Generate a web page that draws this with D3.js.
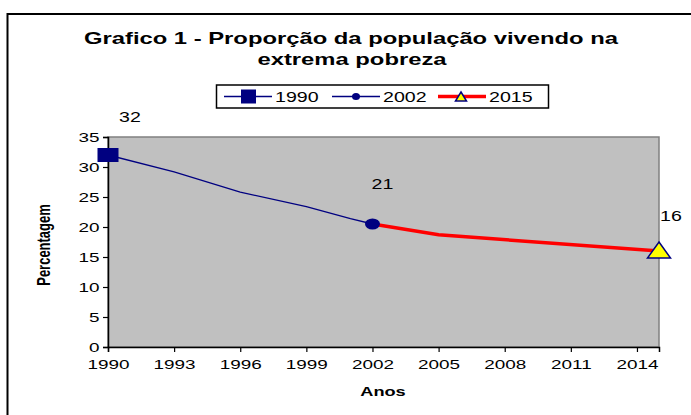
<html>
<head>
<script src="https://cdn.jsdelivr.net/npm/d3@7"></script>
<style>
  body { margin: 0; padding: 0; background: #fff; }
  text { font-family: "Liberation Sans", Arial, sans-serif; }
</style>
</head>
<body>
<div id="chart"></div>
<script>
const titleLines = ['Grafico 1 - Proporção da população vivendo na', 'extrema pobreza'];
const xTicks = [1990, 1993, 1996, 1999, 2002, 2005, 2008, 2011, 2014];
const yTicks = [0, 5, 10, 15, 20, 25, 30, 35];
const blueYears = [1990, 1993, 1996, 1999, 2001, 2002];
const blueVals = [32, 29.2, 25.8, 23.4, 21.4, 20.5];
const redYears = [2002, 2005, 2015];
const redVals = [20.5, 18.7, 16];
const seriesNames = ['1990', '2002', '2015'];
const markYears = [1990, 2002, 2015];
const markVals = [32, 20.5, 16];
const markLabels = ['32', '21', '16'];

const W = 691, H = 415;
const SX = 1.4; // the picture is stretched sideways
const plot = { left: 108, right: 659, top: 137, bottom: 347 };

const svg = d3.select('#chart').append('svg').attr('width', W).attr('height', H);

// outer frame
svg.append('rect').attr('x', 7.5).attr('y', 14).attr('width', 700).attr('height', 420)
  .attr('fill', '#fff').attr('stroke', '#000').attr('stroke-width', 2);

const x = d3.scaleLinear().domain([1990, 2015]).range([plot.left, plot.right]);
const y = d3.scaleLinear().domain([0, 35]).range([plot.bottom, plot.top]);

function txt(str, px, py, opts) {
  opts = opts || {};
  const t = svg.append('text')
    .attr('transform', 'translate(' + px + ',' + py + ') scale(' + SX + ',1)' + (opts.rot ? ' rotate(' + opts.rot + ')' : ''))
    .attr('text-anchor', opts.anchor || 'middle')
    .attr('font-size', opts.size || 14)
    .attr('font-weight', opts.bold ? 'bold' : 'normal')
    .attr('fill', '#000')
    .text(str);
  return t;
}

// title
txt(titleLines[0], 351, 44, { size: 17, bold: true });
txt(titleLines[1], 352, 65, { size: 17, bold: true });

// plot area
svg.append('rect').attr('x', plot.left).attr('y', plot.top)
  .attr('width', plot.right - plot.left).attr('height', plot.bottom - plot.top)
  .attr('fill', '#c0c0c0').attr('stroke', '#808080').attr('stroke-width', 1.5);

// axes
const xAxis = svg.append('g').attr('transform', 'translate(0,' + plot.bottom + ')')
  .call(d3.axisBottom(x).tickValues(xTicks).tickFormat(d3.format('d')).tickSizeOuter(0).tickSize(5));
xAxis.selectAll('text').attr('font-size', 13.5).attr('font-family', '"Liberation Sans", Arial, sans-serif')
  .attr('fill', '#000').attr('dy', '1.05em').attr('transform', 'scale(' + SX + ',1)');
xAxis.select('.domain').attr('stroke', '#000').attr('stroke-width', 1.5);
xAxis.selectAll('line').attr('stroke', '#000').attr('stroke-width', 1.2);

const yAxis = svg.append('g').attr('transform', 'translate(' + plot.left + ',0)')
  .call(d3.axisLeft(y).tickValues(yTicks).tickSizeOuter(0).tickSize(5));
yAxis.selectAll('text').attr('font-size', 13.5).attr('font-family', '"Liberation Sans", Arial, sans-serif')
  .attr('fill', '#000').attr('x', -6).attr('transform', 'scale(' + SX + ',1)');
yAxis.select('.domain').attr('stroke', '#000').attr('stroke-width', 1.5);
yAxis.selectAll('line').attr('stroke', '#000').attr('stroke-width', 1.2);

// axis titles
txt('Percentagem', 50, 245, { size: 13, bold: true, rot: -90 });
txt('Anos', 383, 396, { size: 13, bold: true });

// lines
const line = d3.line().x(d => x(d[0])).y(d => y(d[1]));
svg.append('path').datum(blueYears.map((yr, i) => [yr, blueVals[i]]))
  .attr('d', line).attr('fill', 'none').attr('stroke', '#000080').attr('stroke-width', 1.3);
svg.append('path').datum(redYears.map((yr, i) => [yr, redVals[i]]))
  .attr('d', line).attr('fill', 'none').attr('stroke', '#ff0000').attr('stroke-width', 3.5);

// markers
function dot(g, cx, cy, rx, ry) {
  g.append('ellipse').attr('cx', cx).attr('cy', cy).attr('rx', rx).attr('ry', ry).attr('fill', '#000080');
}
function tri(g, cx, cy, w, h) {
  g.append('path').attr('d', 'M' + cx + ',' + (cy - h / 2) + 'L' + (cx + w / 2) + ',' + (cy + h / 2) + 'L' + (cx - w / 2) + ',' + (cy + h / 2) + 'Z')
    .attr('fill', '#ffff00').attr('stroke', '#000080').attr('stroke-width', 1.5);
}
svg.append('rect').attr('x', x(markYears[0]) - 10.5).attr('y', y(markVals[0]) - 7)
  .attr('width', 21).attr('height', 14).attr('fill', '#000080');
dot(svg, x(markYears[1]), y(markVals[1]), 7.5, 5.5);
tri(svg, x(markYears[2]), y(markVals[2]) - 1, 23, 16);

// data labels
const labelOff = [[22, -33], [10, -35], [12, -30]];
markLabels.forEach((l, i) => {
  txt(l, x(markYears[i]) + labelOff[i][0], y(markVals[i]) + labelOff[i][1], { size: 14 });
});

// legend
const leg = svg.append('g');
leg.append('rect').attr('x', 216.5).attr('y', 85).attr('width', 332).attr('height', 23)
  .attr('fill', '#fff').attr('stroke', '#000').attr('stroke-width', 1.5);
const legX = [224, 332, 438];
seriesNames.forEach((name, i) => {
  const lx = legX[i], ly = 96.5;
  leg.append('line').attr('x1', lx).attr('x2', lx + 48).attr('y1', ly).attr('y2', ly)
    .attr('stroke', i === 2 ? '#ff0000' : '#000080').attr('stroke-width', i === 2 ? 3.5 : 1.3);
  if (i === 0) leg.append('rect').attr('x', lx + 17).attr('y', ly - 7).attr('width', 15).attr('height', 14).attr('fill', '#000080');
  if (i === 1) dot(leg, lx + 24, ly, 4, 3.5);
  if (i === 2) tri(leg, lx + 23, ly, 11, 9);
  txt(name, lx + 51, ly + 5, { size: 14, anchor: 'start' });
});
</script>
</body>
</html>
